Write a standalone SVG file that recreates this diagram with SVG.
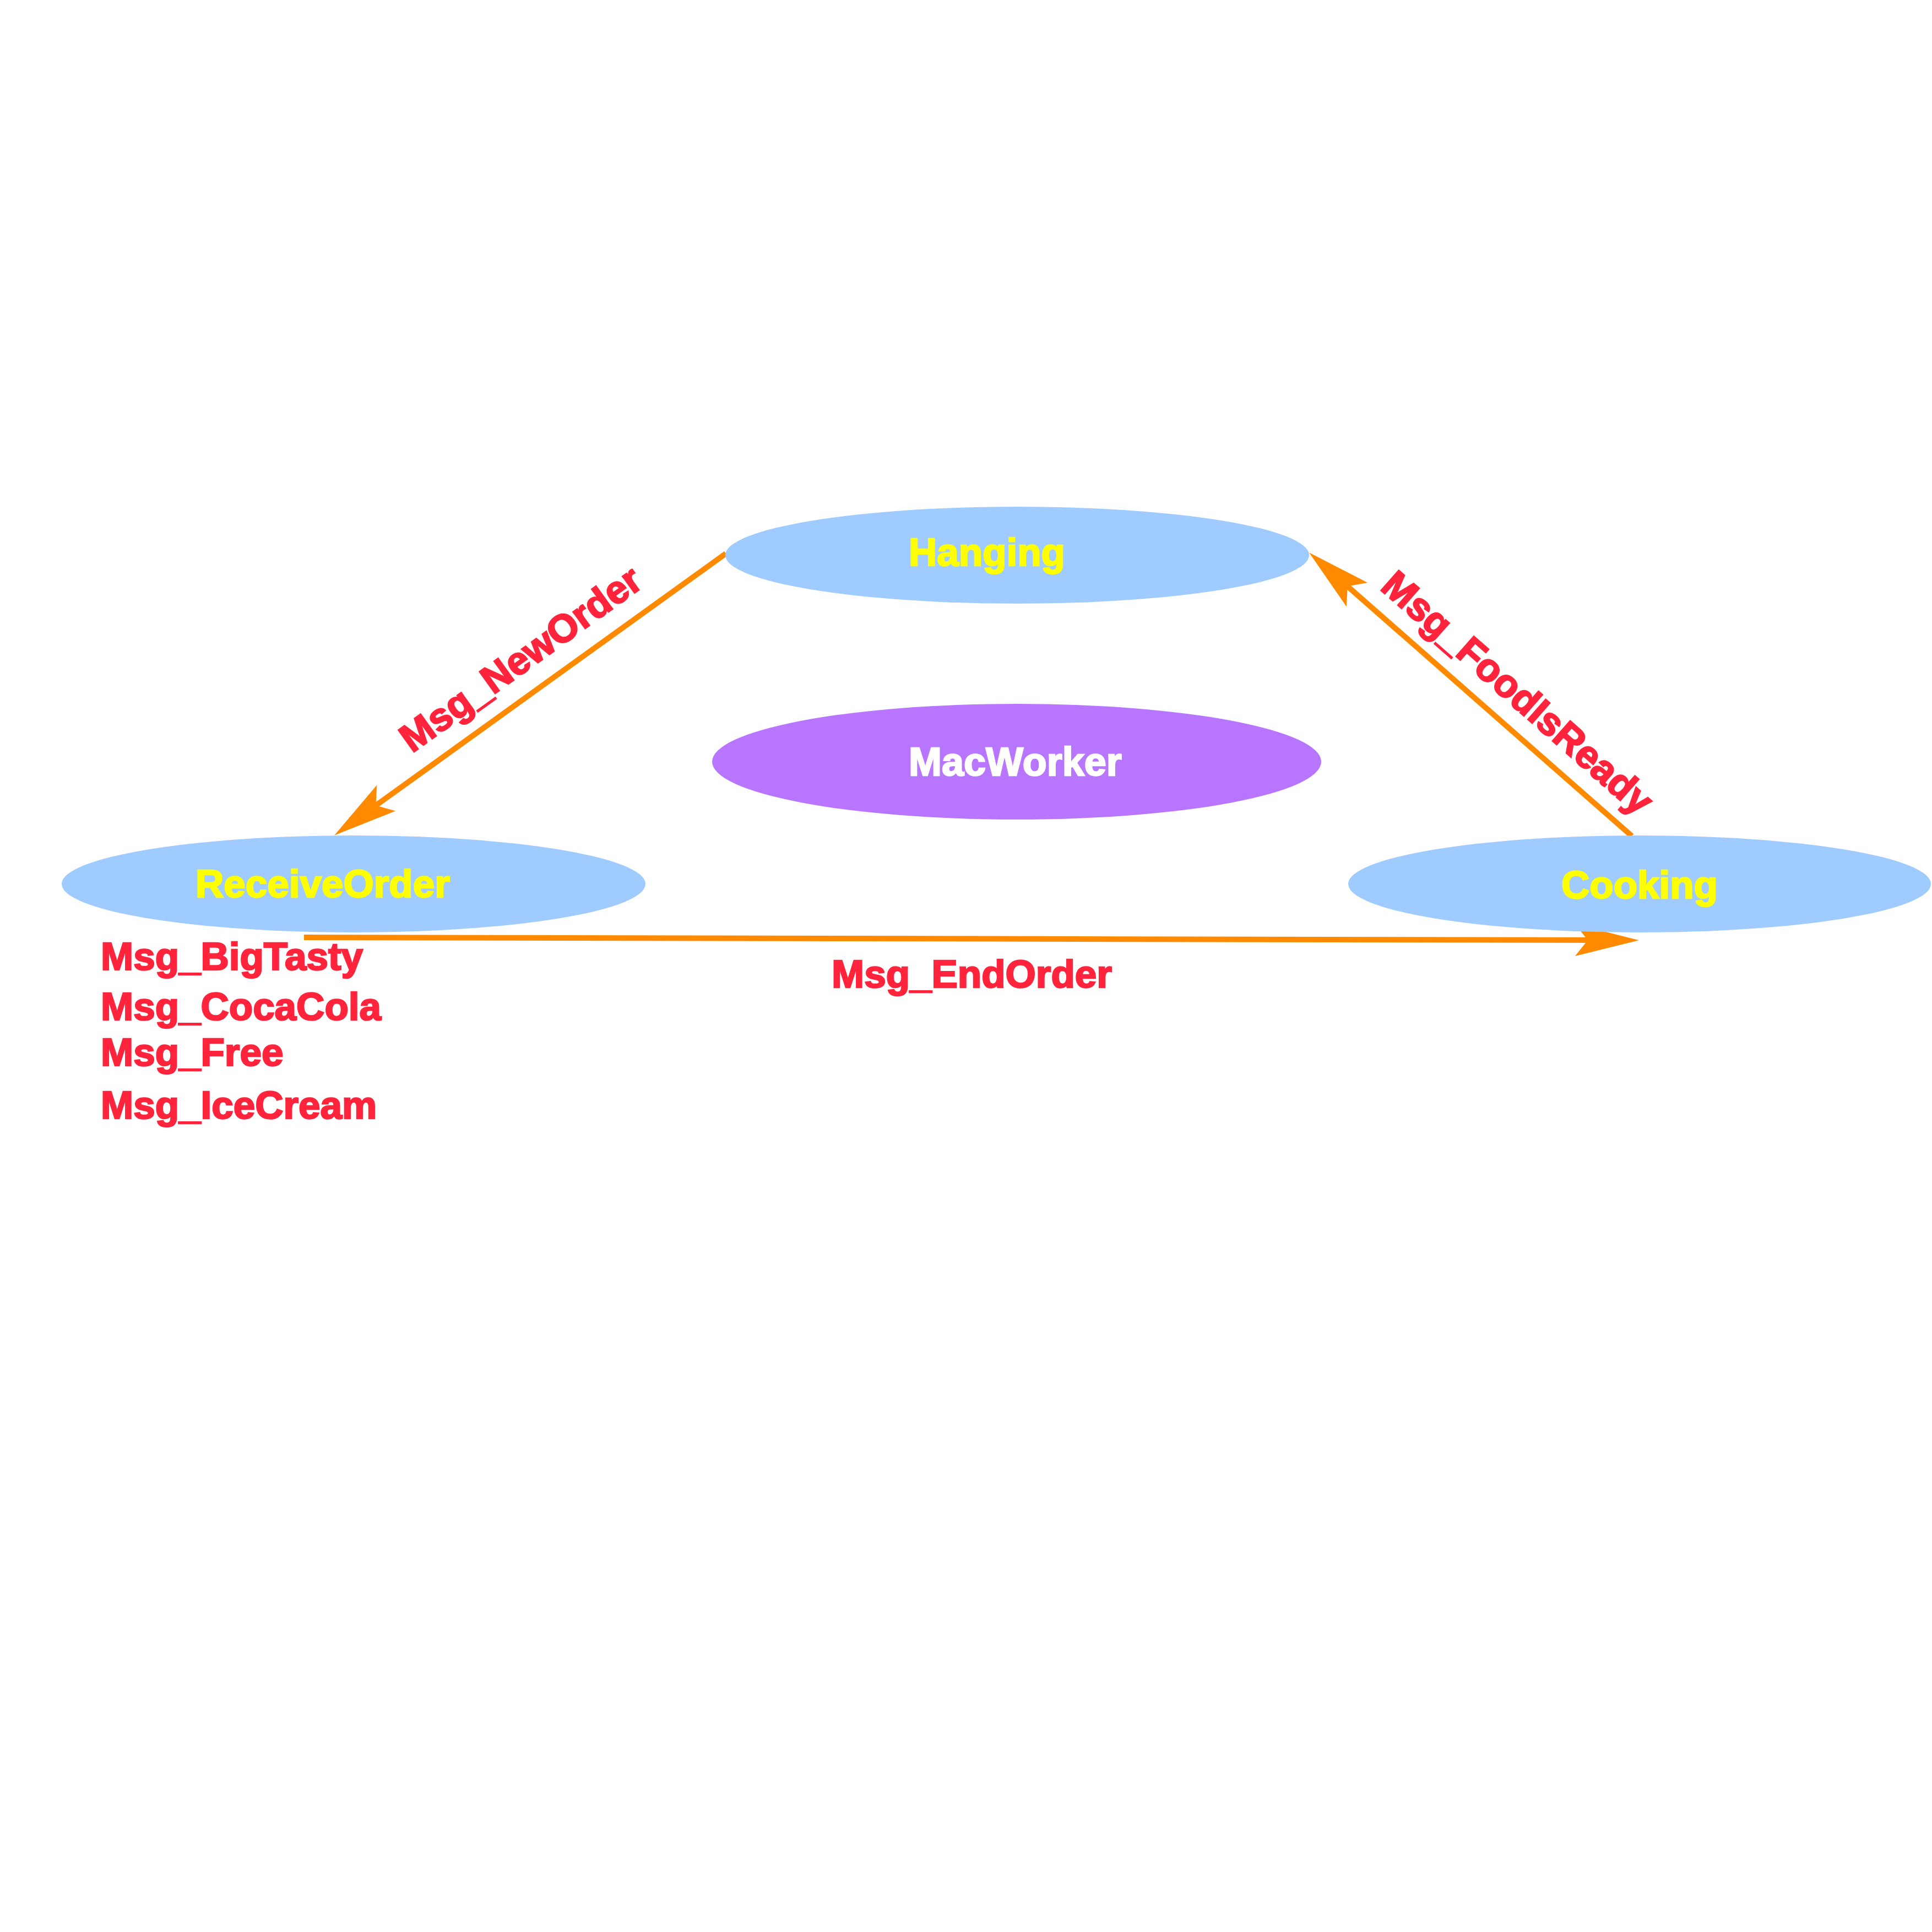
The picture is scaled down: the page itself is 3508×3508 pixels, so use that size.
<svg xmlns="http://www.w3.org/2000/svg" width="3508" height="3508" viewBox="0 0 3508 3508">
<style>
.state{fill:#9FCBFF;}
.main{fill:#B875FF;}
.ntxt{font-family:"Liberation Sans",Arial,sans-serif;font-weight:bold;font-size:71px;fill:#FFFF00;stroke:#FFFF00;stroke-width:2.5;}
.wtxt{font-family:"Liberation Sans",Arial,sans-serif;font-weight:bold;font-size:72px;fill:#FFFFFF;stroke:#FFFFFF;stroke-width:2.5;}
.lbl{font-family:"Liberation Sans",Arial,sans-serif;font-weight:bold;font-size:71px;fill:#FF243C;stroke:#FF243C;stroke-width:2.5;}
.edge{stroke:#FF8A00;stroke-width:10;fill:none;marker-end:url(#arr);}
</style>
<defs>
<marker id="arr" markerUnits="userSpaceOnUse" viewBox="-40 -32 124 64" refX="0" refY="0" markerWidth="124" markerHeight="64" orient="auto">
<path d="M80,0 L-36,-29 L-13,0 L-36,29 Z" fill="#FF8A00"/>
</marker>
</defs>
<rect width="3508" height="3508" fill="#FFFFFF"/>
<g id="connectors">
<line class="edge" x1="1318" y1="1005" x2="672" y2="1470"/>
<line class="edge" x1="2963" y1="1518" x2="2437" y2="1056"/>
<line class="edge" x1="552" y1="1702" x2="2896" y2="1707"/>
<text class="lbl" transform="translate(748,1368) rotate(-35.76)">Msg_NewOrder</text>
<text class="lbl" transform="translate(2504,1069) rotate(41.3)">Msg_FoodIsReady</text>
<text class="lbl" x="1510" y="1793">Msg_EndOrder</text>
</g>
<g id="Hanging">
<ellipse class="state" cx="1847" cy="1008" rx="530" ry="88"/>
<text class="ntxt" x="1650" y="1027">Hanging</text>
</g>
<g id="MacWorker">
<ellipse class="main" cx="1846" cy="1383" rx="553" ry="105"/>
<text class="wtxt" x="1650" y="1408">MacWorker</text>
</g>
<g id="ReceiveOrder">
<ellipse class="state" cx="642" cy="1605" rx="530" ry="88"/>
<text class="ntxt" x="355" y="1629">ReceiveOrder</text>
<text class="lbl" x="183" y="1761">Msg_BigTasty</text>
<text class="lbl" x="183" y="1852">Msg_CocaCola</text>
<text class="lbl" x="183" y="1935">Msg_Free</text>
<text class="lbl" x="183" y="2031">Msg_IceCream</text>
</g>
<g id="Cooking">
<ellipse class="state" cx="2977" cy="1605" rx="529" ry="88"/>
<text class="ntxt" x="2835" y="1631">Cooking</text>
</g>
</svg>
